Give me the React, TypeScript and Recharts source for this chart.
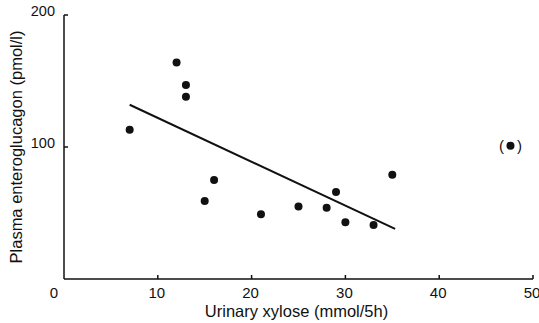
import { ComposedChart, Scatter, XAxis, YAxis, Label } from "recharts";

const xTicks = [0, 10, 20, 30, 40, 50];
const yTicks = [0, 100, 200];

// patients (urinary xylose, plasma enteroglucagon)
const patients = [
  { x: 7, y: 113 },
  { x: 12, y: 164 },
  { x: 13, y: 147 },
  { x: 13, y: 138 },
  { x: 15, y: 59 },
  { x: 16, y: 75 },
  { x: 21, y: 49 },
  { x: 25, y: 55 },
  { x: 28, y: 54 },
  { x: 29, y: 66 },
  { x: 30, y: 43 },
  { x: 33, y: 41 },
  { x: 35, y: 79 },
];

// excluded point, drawn in brackets
const excluded = [{ x: 47.6, y: 101 }];

// regression line ends
const fit = [
  { x: 7, y: 132 },
  { x: 35.3, y: 38 },
];

const INK = "#111";
const FONT = "'Liberation Sans', Arial, sans-serif";

const XTick = (p: any) => {
  const { x, y, payload } = p;
  const dx = payload.value === 0 ? -10 : -1;
  return (
    <g>
      {payload.value !== 0 && <line x1={x} x2={x} y1={y} y2={y - 4} stroke={INK} strokeWidth={1.5} />}
      <text x={x + dx} y={y + 19} textAnchor="middle" fontSize={15} fontFamily={FONT} fill={INK}>
        {payload.value}
      </text>
    </g>
  );
};

const YTick = (p: any) => {
  const { x, y, payload } = p;
  if (payload.value === 0) return <g />;
  return (
    <g>
      <line x1={x} x2={x + 4} y1={y} y2={y} stroke={INK} strokeWidth={1.5} />
      <text x={x - 9} y={y + 1} textAnchor="end" fontSize={14.5} fontFamily={FONT} fill={INK}>
        {payload.value}
      </text>
    </g>
  );
};

const Dot = (p: any) => <circle cx={p.cx} cy={p.cy} r={4} fill={INK} />;

const Bracketed = (p: any) => (
  <g>
    <circle cx={p.cx} cy={p.cy} r={4} fill={INK} />
    <text x={p.cx - 9} y={p.cy + 5} textAnchor="middle" fontSize={15} fontFamily={FONT} fill={INK}>(</text>
    <text x={p.cx + 9} y={p.cy + 5} textAnchor="middle" fontSize={15} fontFamily={FONT} fill={INK}>)</text>
  </g>
);

const YTitle = (p: any) => {
  const vb = p.viewBox;
  const cx = vb.x + 18;
  const cy = vb.y + vb.height / 2;
  return (
    <text x={cx} y={cy} transform={`rotate(-90 ${cx} ${cy})`} textAnchor="middle" dominantBaseline="middle"
      fontSize={16.5} fontFamily={FONT} fill={INK}>
      Plasma enteroglucagon (pmol/l)
    </text>
  );
};

const XTitle = (p: any) => {
  const vb = p.viewBox;
  return (
    <text x={vb.x + vb.width / 2 - 2} y={vb.y + 38} textAnchor="middle" fontSize={16.5} fontFamily={FONT} fill={INK}>
      Urinary xylose (mmol/5h)
    </text>
  );
};

export default function App() {
  return (
    <div style={{ position: "absolute", left: 0, top: 0, width: 539, height: 323, background: "#fff" }}>
      <ComposedChart width={539} height={323} margin={{ top: 15, right: 6, bottom: 0, left: 0 }}>
        <XAxis type="number" dataKey="x" domain={[0, 50]} ticks={xTicks} height={44}
          axisLine={{ stroke: INK, strokeWidth: 1.5 }} tickLine={false} tickSize={0} tickMargin={0}
          tick={<XTick />} interval={0}>
          <Label content={<XTitle />} />
        </XAxis>
        <YAxis type="number" dataKey="y" domain={[0, 200]} ticks={yTicks} width={64}
          axisLine={{ stroke: INK, strokeWidth: 1.5 }} tickLine={false} tickSize={0} tickMargin={0}
          tick={<YTick />} interval={0}>
          <Label content={<YTitle />} />
        </YAxis>
        <Scatter data={fit} line={{ stroke: INK, strokeWidth: 2 }} shape={() => <g />} isAnimationActive={false} />
        <Scatter data={patients} shape={<Dot />} isAnimationActive={false} />
        <Scatter data={excluded} shape={<Bracketed />} isAnimationActive={false} />
      </ComposedChart>
    </div>
  );
}
